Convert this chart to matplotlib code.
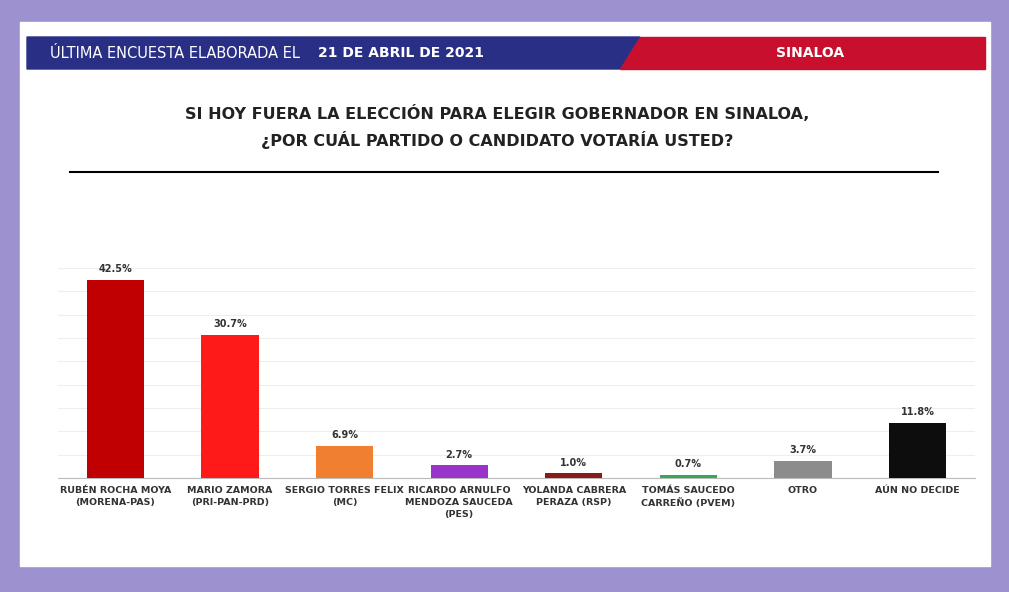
import matplotlib.pyplot as plt
from matplotlib.patches import Rectangle, Polygon

candidatos = ['RUBÉN ROCHA MOYA\n(MORENA-PAS)', 'MARIO ZAMORA\n(PRI-PAN-PRD)', 'SERGIO TORRES FELIX\n(MC)',
              'RICARDO ARNULFO\nMENDOZA SAUCEDA\n(PES)', 'YOLANDA CABRERA\nPERAZA (RSP)',
              'TOMÁS SAUCEDO\nCARREÑO (PVEM)', 'OTRO', 'AÚN NO DECIDE']
valores = [42.5, 30.7, 6.9, 2.7, 1.0, 0.7, 3.7, 11.8]
colores = ['#c00000', '#ff1a1a', '#f08030', '#9933cc', '#8b1a1a', '#33aa55', '#8c8c8c', '#0d0d0d']

W, H = 1009, 592
fig = plt.figure(figsize=(W / 100, H / 100), dpi=100)
fig.patch.set_facecolor('#9d92cf')

bg = fig.add_axes([0, 0, 1, 1])
bg.set_xlim(0, W)
bg.set_ylim(H, 0)
bg.axis('off')
bg.add_patch(Rectangle((20, 22), 970, 544, color='white'))
bg.add_patch(Polygon([(27, 37), (640, 37), (620, 69), (27, 69)], color='#2a2f86'))
bg.add_patch(Polygon([(640, 37), (985, 37), (985, 69), (620, 69)], color='#c8102e'))
bg.text(50, 53, 'ÚLTIMA ENCUESTA ELABORADA EL', color='white', fontsize=10.5, va='center')
bg.text(318, 53, '21 DE ABRIL DE 2021', color='white', fontsize=10, va='center', fontweight='bold')
bg.text(810, 53, 'SINALOA', color='white', fontsize=10, va='center', ha='center', fontweight='bold')
bg.text(497, 127, 'SI HOY FUERA LA ELECCIÓN PARA ELEGIR GOBERNADOR EN SINALOA,\n¿POR CUÁL PARTIDO O CANDIDATO VOTARÍA USTED?',
        ha='center', va='center', fontsize=11.5, fontweight='bold', color='#222222', linespacing=1.6)
bg.plot([70, 938], [172, 172], color='black', lw=1.5)

ax = fig.add_axes([58 / W, 1 - 478 / H, (975 - 58) / W, (478 - 268) / H])
x = range(len(valores))
ax.bar(x, valores, color=colores, width=0.5, zorder=3)
for i, v in zip(x, valores):
    ax.text(i, v + 1.2, f'{v}%', ha='center', va='bottom', fontsize=7, fontweight='bold', color='#333333')
ax.set_xlim(-0.5, len(valores) - 0.5)
ax.set_ylim(0, 45)
ax.set_yticks(range(0, 46, 5))
ax.set_yticklabels([])
ax.tick_params(length=0, pad=6)
ax.grid(axis='y', color='#eeeeee', lw=0.8, zorder=0)
ax.set_xticks(list(x))
ax.set_xticklabels(candidatos, fontsize=6.8, fontweight='bold', color='#333333', va='top', linespacing=1.4)
for s in ['top', 'right', 'left']:
    ax.spines[s].set_visible(False)
ax.spines['bottom'].set_color('#bbbbbb')

fig.savefig('out.png', dpi=100, facecolor=fig.get_facecolor())
